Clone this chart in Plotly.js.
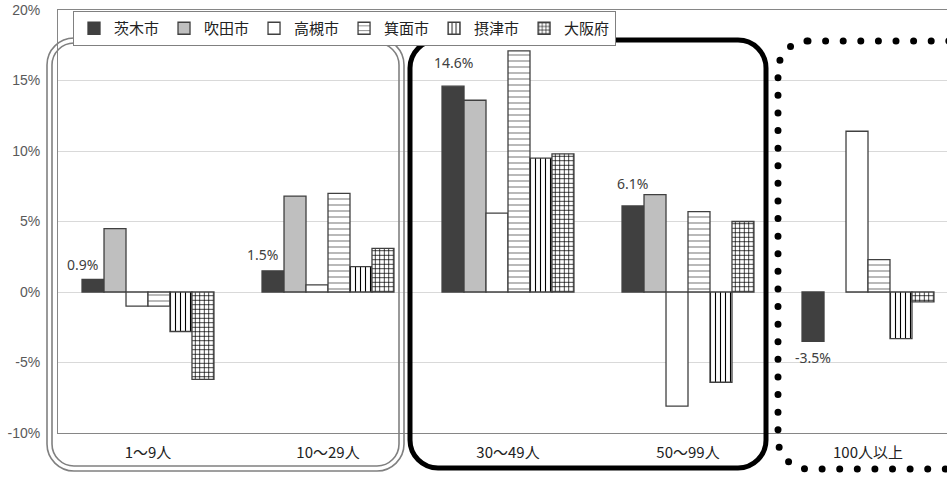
<!DOCTYPE html>
<html><head><meta charset="utf-8">
<script src="https://cdn.plot.ly/plotly-3.0.1.min.js"></script>
<style>html,body{margin:0;padding:0;background:#fff} .shapelayer path{stroke-linecap:round;}</style>
</head><body><div id="chart" style="width:947px;height:477px"></div>
<script>
// ---- data ----
const categories = ['1～9人', '10～29人', '30～49人', '50～99人', '100人以上'];
const seriesNames = ['茨木市', '吹田市', '高槻市', '箕面市', '摂津市', '大阪府'];
const ibaraki   = [0.9, 1.5, 14.6, 6.1, -3.5];
const suita     = [4.5, 6.8, 13.6, 6.9, null];
const takatsuki = [-1.0, 0.5, 5.6, -8.1, 11.4];
const minoh     = [-1.0, 7.0, 17.1, 5.7, 2.3];
const settsu    = [-2.8, 1.8, 9.5, -6.4, -3.3];
const osakaFu   = [-6.2, 3.1, 9.8, 5.0, -0.7];
const yTickVals = [-10, -5, 0, 5, 10, 15, 20];
const yTickText = ['-10%', '-5%', '0%', '5%', '10%', '15%', '20%'];

// ---- styles ----
const outline = {color: '#404040', width: 1.3};
const styles = [
  {color: '#404040'},
  {color: '#bfbfbf'},
  {color: '#ffffff'},
  {color: '#ffffff', pattern: {shape: '-', fgcolor: '#8a8a8a', bgcolor: '#ffffff', size: 6, solidity: 0.2}},
  {color: '#ffffff', pattern: {shape: '|', fgcolor: '#000000', bgcolor: '#ffffff', size: 5, solidity: 0.22}},
  {color: '#ffffff', pattern: {shape: '+', fgcolor: '#000000', bgcolor: '#ffffff', size: 4.5, solidity: 0.3}}
];
const allSeries = [ibaraki, suita, takatsuki, minoh, settsu, osakaFu];
const traces = allSeries.map((vals, i) => ({
  type: 'bar', name: seriesNames[i], x: categories.map((c, j) => j), y: vals,
  marker: Object.assign({line: outline}, styles[i]),
  hoverinfo: 'skip'
}));

// ---- decorations (pixel -> paper) ----
const L = 58, T = 10, B = 433, W = 889, H = B - T;
const px = x => (x - L) / W;
const py = y => (B - y) / H;
function roundRect(x0, y0, x1, y1, r) {
  const k = 0.5523 * r;
  return `M${px(x0 + r)},${py(y0)} L${px(x1 - r)},${py(y0)} ` +
    `C${px(x1 - r + k)},${py(y0)} ${px(x1)},${py(y0 + r - k)} ${px(x1)},${py(y0 + r)} ` +
    `L${px(x1)},${py(y1 - r)} C${px(x1)},${py(y1 - r + k)} ${px(x1 - r + k)},${py(y1)} ${px(x1 - r)},${py(y1)} ` +
    `L${px(x0 + r)},${py(y1)} C${px(x0 + r - k)},${py(y1)} ${px(x0)},${py(y1 - r + k)} ${px(x0)},${py(y1 - r)} ` +
    `L${px(x0)},${py(y0 + r)} C${px(x0)},${py(y0 + r - k)} ${px(x0 + r - k)},${py(y0)} ${px(x0 + r)},${py(y0)} Z`;
}
const shapes = [
  {type: 'path', xref: 'paper', yref: 'paper', path: roundRect(47, 38, 404, 471, 27), line: {color: '#808080', width: 1.6}},
  {type: 'path', xref: 'paper', yref: 'paper', path: roundRect(52, 43, 399, 466, 22), line: {color: '#808080', width: 1.6}},
  {type: 'path', xref: 'paper', yref: 'paper', path: roundRect(410, 40, 766, 468, 28), line: {color: '#000000', width: 5}},
  {type: 'path', xref: 'paper', yref: 'paper', path: roundRect(778, 41, 1010, 469, 30), line: {color: '#000000', width: 7, dash: '0px,17.6px'}}
];

// ---- data labels for 茨木市 ----
const barW = 22;
const labelDx = [-11, -11, 0, -1, 0];
const labelDy = [3, 5, 12, 11, -5];
const annotations = ibaraki.map((v, j) => ({
  x: j, y: v, xref: 'x', yref: 'y', text: v.toFixed(1) + '%', showarrow: false,
  xshift: -2.5 * barW + labelDx[j], yshift: labelDy[j],
  yanchor: v >= 0 ? 'bottom' : 'top', xanchor: 'center',
  font: {family: 'Noto Sans, sans-serif', size: 14, color: '#404040'}
}));

const layout = {
  width: 947, height: 477,
  margin: {l: L, r: 0, t: T, b: 477 - B, pad: 0},
  paper_bgcolor: '#ffffff', plot_bgcolor: '#ffffff',
  barmode: 'group', bargap: 0.267, bargroupgap: 0,
  showlegend: true,
  legend: {
    orientation: 'h', x: px(73), y: py(11), xanchor: 'left', yanchor: 'top',
    bgcolor: '#ffffff', bordercolor: '#808080', borderwidth: 1,
    font: {family: 'Noto Sans CJK JP, sans-serif', size: 15, color: '#222222'},
    itemwidth: 30, traceorder: 'normal'
  },
  xaxis: {
    type: 'linear', range: [-0.5, (947 - L) / 180 - 0.5],
    tickvals: categories.map((c, j) => j), ticktext: categories,
    tickfont: {family: 'Noto Sans CJK JP, sans-serif', size: 15, color: '#222222'},
    showgrid: false, zeroline: false, showline: true, linecolor: '#868686', linewidth: 1, mirror: true,
    ticks: '', ticklabelstandoff: 6, fixedrange: true
  },
  yaxis: {
    range: [-10, 20], tickvals: yTickVals, ticktext: yTickText,
    tickfont: {family: 'Liberation Sans, sans-serif', size: 14, color: '#595959'},
    showgrid: true, gridcolor: '#d9d9d9', gridwidth: 1,
    zeroline: true, zerolinecolor: '#d9d9d9', zerolinewidth: 1,
    showline: true, linecolor: '#868686', linewidth: 1,
    ticks: '', ticklabelstandoff: 14, fixedrange: true
  },
  shapes: shapes,
  annotations: annotations
};
Plotly.newPlot('chart', traces, layout, {displayModeBar: false, staticPlot: true});
</script></body></html>
